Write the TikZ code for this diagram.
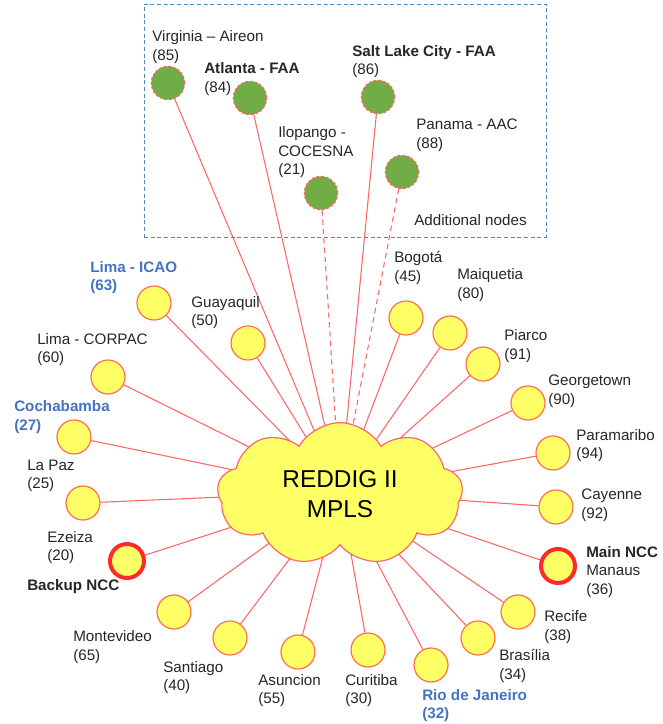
\documentclass[tikz,border=0pt]{standalone}
\usepackage{fontspec}
\setmainfont{Liberation Sans}
\usetikzlibrary{shapes.symbols}
\definecolor{cyel}{HTML}{FFFF66}
\definecolor{cline}{HTML}{FF6666}
\definecolor{cring}{HTML}{FF6F4F}
\definecolor{cthick}{HTML}{FF2B2B}
\definecolor{cgreen}{HTML}{70AD47}
\definecolor{cblue}{HTML}{4472C4}
\definecolor{cbox}{HTML}{5585BE}
\definecolor{ctext}{HTML}{262626}
\pgfdeclarelayer{bg}
\pgfsetlayers{bg,main}
\tikzset{
  site/.style={circle, fill=cyel, draw=cring, line width=0.9pt, minimum size=25.5pt, inner sep=0pt},
  ncc/.style={circle, fill=cyel, draw=cthick, line width=3pt, minimum size=25.5pt, inner sep=0pt},
  extra/.style={circle, fill=cgreen, draw=cline, dashed, dash pattern=on 2pt off 1.5pt, line width=0.9pt, minimum size=25pt, inner sep=0pt},
  lbl/.style={anchor=west, align=left, inner sep=0pt, text=ctext, font=\fontsize{11.4}{13.9}\selectfont},
  link/.style={draw=cline, line width=0.8pt},
  dlink/.style={draw=cline, line width=0.8pt, dash pattern=on 4pt off 3pt},
}
\begin{document}
\begin{tikzpicture}[x=0.75pt, y=-0.75pt]
\useasboundingbox (0,0) rectangle (663,724);
% dashed box
\node[draw=cbox, dashed, line width=0.7pt, dash pattern=on 3pt off 2pt, minimum width=301.5pt, minimum height=174.75pt, inner sep=0pt] (box) at (345,120.5) {};
% cloud
\node[cloud, cloud puffs=9, cloud puff arc=120, cloud ignores aspect, minimum width=184pt, minimum height=107pt, fill=cyel, draw=cline, line width=0.9pt, inner sep=0pt, align=center, font=\fontsize{18.3}{22.5}\selectfont, text=black] (cloud) at (340,494) {REDDIG II\\MPLS};
\coordinate (hub) at (340,492);
% green additional nodes
\node[extra] (virginia) at (168,83) {};
\node[extra] (atlanta) at (250,98) {};
\node[extra] (saltlake) at (378,97) {};
\node[extra] (ilopango) at (321,193) {};
\node[extra] (panama) at (402,172) {};
% yellow sites
\node[site] (limaicao) at (154,303) {};
\node[site] (guayaquil) at (248,343) {};
\node[site] (limacorpac) at (108,377) {};
\node[site] (cochabamba) at (74,437) {};
\node[site] (lapaz) at (83,503) {};
\node[ncc] (ezeiza) at (127,561) {};
\node[site] (montevideo) at (174,612) {};
\node[site] (santiago) at (230,638) {};
\node[site] (asuncion) at (298,652) {};
\node[site] (curitiba) at (368,650) {};
\node[site] (rio) at (431,665) {};
\node[site] (brasilia) at (478,638) {};
\node[site] (recife) at (518,612) {};
\node[ncc] (manaus) at (558,566) {};
\node[site] (cayenne) at (556,507) {};
\node[site] (paramaribo) at (553,453) {};
\node[site] (georgetown) at (528,403) {};
\node[site] (piarco) at (483,364) {};
\node[site] (maiquetia) at (450,333) {};
\node[site] (bogota) at (406,318) {};
% links
\begin{pgfonlayer}{bg}
\foreach \n in {virginia,atlanta,saltlake,limaicao,guayaquil,limacorpac,cochabamba,lapaz,ezeiza,montevideo,santiago,asuncion,curitiba,rio,brasilia,recife,manaus,cayenne,paramaribo,georgetown,piarco,maiquetia,bogota}
  \draw[link] (\n) -- (hub);
\draw[dlink] (ilopango) -- (hub);
\draw[dlink] (panama) -- (hub);
\end{pgfonlayer}
% labels
\node[lbl] (tvirginia) at (152,47) {Virginia – Aireon\\(85)};
\node[lbl] (tatlanta) at (204,79) {\textbf{Atlanta - FAA}\\(84)};
\node[lbl] (tsaltlake) at (352,61.5) {\textbf{Salt Lake City - FAA}\\(86)};
\node[lbl] (tilopango) at (278,152.5) {Ilopango -\\COCESNA\\(21)};
\node[lbl] (tpanama) at (416,135) {Panama - AAC\\(88)};
\node[lbl] (taddl) at (414,220) {Additional nodes};
\node[lbl, text=cblue] (tlimaicao) at (90,277.5) {\textbf{Lima - ICAO}\\\textbf{(63)}};
\node[lbl] (tguayaquil) at (191,312.5) {Guayaquil\\(50)};
\node[lbl] (tlimacorpac) at (37,349.5) {Lima - CORPAC\\(60)};
\node[lbl, text=cblue] (tcochabamba) at (14,417) {\textbf{Cochabamba}\\\textbf{(27)}};
\node[lbl] (tlapaz) at (27,476) {La Paz\\(25)};
\node[lbl] (tezeiza) at (47,547.5) {Ezeiza\\(20)};
\node[lbl] (tbackup) at (27,587) {\textbf{Backup NCC}};
\node[lbl] (tmontevideo) at (73,647) {Montevideo\\(65)};
\node[lbl] (tsantiago) at (163,677.5) {Santiago\\(40)};
\node[lbl] (tasuncion) at (258,690.5) {Asuncion\\(55)};
\node[lbl] (tcuritiba) at (345,690.5) {Curitiba\\(30)};
\node[lbl, text=cblue] (trio) at (422,705.5) {\textbf{Rio de Janeiro}\\\textbf{(32)}};
\node[lbl] (tbrasilia) at (499,666) {Brasília\\(34)};
\node[lbl] (trecife) at (544,627) {Recife\\(38)};
\node[lbl] (tmanaus) at (586,572) {\textbf{Main NCC}\\Manaus\\(36)};
\node[lbl] (tcayenne) at (581,505.5) {Cayenne\\(92)};
\node[lbl] (tparamaribo) at (576,445.5) {Paramaribo\\(94)};
\node[lbl] (tgeorgetown) at (548,391) {Georgetown\\(90)};
\node[lbl] (tpiarco) at (504,346) {Piarco\\(91)};
\node[lbl] (tmaiquetia) at (457,285) {Maiquetia\\(80)};
\node[lbl] (tbogota) at (394,268) {Bogotá\\(45)};
\end{tikzpicture}
\end{document}
